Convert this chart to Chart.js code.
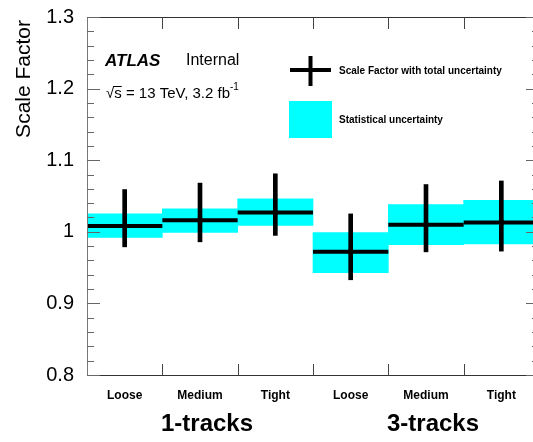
<!DOCTYPE html>
<html>
<head>
<meta charset="utf-8">
<script src="https://cdn.jsdelivr.net/npm/chart.js@4/dist/chart.umd.min.js"></script>
<style>
  html, body { margin: 0; padding: 0; background: #fff; overflow: hidden; }
  #wrap { position: relative; width: 545px; height: 442px; }
</style>
</head>
<body>
<div id="wrap"><canvas id="sfChart"></canvas></div>
<script>
// 各 bin 的分類與數值
const categories = ['Loose', 'Medium', 'Tight', 'Loose', 'Medium', 'Tight'];
const groupLabels = ['1-tracks', '3-tracks'];
const sfValues = [1.008, 1.016, 1.027, 0.972, 1.010, 1.013];
const totalLow = [0.979, 0.986, 0.995, 0.933, 0.972, 0.973];
const totalHigh = [1.059, 1.068, 1.081, 1.025, 1.066, 1.071];
const statLow = [0.992, 0.999, 1.009, 0.943, 0.982, 0.983];
const statHigh = [1.025, 1.032, 1.046, 0.999, 1.038, 1.044];
const yMin = 0.8, yMax = 1.3, yMajor = 0.1, yMinor = 0.02;

const FONT = "'Liberation Sans', Arial, Helvetica, sans-serif";

/**
 * 畫框、內向刻度、中心值橫線、標示與圖例
 */
const rootStylePlugin = {
    id: 'rootStyle',
    afterDatasetsDraw(chart) {
        const ctx = chart.ctx;
        const x = chart.scales.x, y = chart.scales.y;
        const hw = (x.getPixelForValue(1) - x.getPixelForValue(0)) / 2;
        ctx.save();
        ctx.strokeStyle = '#000';
        ctx.fillStyle = '#000';
        ctx.lineWidth = 4;
        sfValues.forEach((v, i) => {
            const xc = x.getPixelForValue(i);
            const yc = y.getPixelForValue(v);
            ctx.beginPath();
            ctx.moveTo(xc - hw, yc);
            ctx.lineTo(xc + hw, yc);
            ctx.stroke();
            ctx.beginPath();
            ctx.arc(xc, yc, 3, 0, Math.PI * 2);
            ctx.fill();
        });
        ctx.restore();
    },
    afterDraw(chart) {
        const ctx = chart.ctx;
        const a = chart.chartArea;
        const x = chart.scales.x, y = chart.scales.y;
        const hw = (x.getPixelForValue(1) - x.getPixelForValue(0)) / 2;
        ctx.save();

        // 框線
        ctx.lineWidth = 1;
        ctx.strokeStyle = '#333';
        ctx.beginPath();
        ctx.moveTo(a.left, a.top + 0.5); ctx.lineTo(a.right, a.top + 0.5);
        ctx.moveTo(a.left, a.bottom + 0.5); ctx.lineTo(a.right, a.bottom + 0.5);
        ctx.moveTo(a.right + 0.5, a.top); ctx.lineTo(a.right + 0.5, a.bottom);
        ctx.stroke();
        ctx.strokeStyle = '#777';
        ctx.beginPath();
        ctx.moveTo(a.left + 0.5, a.top); ctx.lineTo(a.left + 0.5, a.bottom + 1);
        ctx.stroke();

        // y 軸刻度（主 / 次）
        ctx.strokeStyle = '#666';
        const nSteps = Math.round((yMax - yMin) / yMinor);
        for (let k = 0; k <= nSteps; k++) {
            const v = yMin + k * yMinor;
            const major = k % Math.round(yMajor / yMinor) === 0;
            const len = major ? 13 : 7;
            const py = Math.round(y.getPixelForValue(v)) + 0.5;
            ctx.beginPath();
            ctx.moveTo(a.left, py); ctx.lineTo(a.left + len, py);
            ctx.moveTo(a.right, py); ctx.lineTo(a.right - len, py);
            ctx.stroke();
        }

        // x 軸刻度（bin 邊界）
        ctx.strokeStyle = '#444';
        for (let i = 0; i < categories.length; i++) {
            const px = Math.round(x.getPixelForValue(i) + hw) + 0.5;
            ctx.beginPath();
            ctx.moveTo(px, a.bottom); ctx.lineTo(px, a.bottom - 11);
            ctx.moveTo(px, a.top); ctx.lineTo(px, a.top + 12);
            ctx.stroke();
        }

        // 群組標示
        ctx.fillStyle = '#000';
        ctx.textAlign = 'center';
        ctx.textBaseline = 'middle';
        ctx.font = 'bold 24px ' + FONT;
        groupLabels.forEach((g, j) => {
            const xc = x.getPixelForValue(j * 3 + 1) + 7;
            ctx.fillText(g, xc, 424);
        });

        // y 軸標題
        ctx.save();
        ctx.translate(24, a.top + 3);
        ctx.rotate(-Math.PI / 2);
        ctx.textAlign = 'right';
        ctx.textBaseline = 'middle';
        ctx.font = '21px ' + FONT;
        ctx.fillText('Scale Factor', 0, 0);
        ctx.restore();

        // ATLAS Internal
        ctx.textAlign = 'left';
        ctx.font = 'italic bold 17px ' + FONT;
        ctx.fillText('ATLAS', 105, 61);
        ctx.font = '16px ' + FONT;
        ctx.fillText('Internal', 186, 61);

        // √s = 13 TeV, 3.2 fb-1
        ctx.font = '15px ' + FONT;
        ctx.fillText('\u221As = 13 TeV, 3.2 fb', 106, 94);
        let w = ctx.measureText('\u221As = 13 TeV, 3.2 fb').width;
        const sq = ctx.measureText('\u221A').width;
        const sw = ctx.measureText('s').width;
        ctx.lineWidth = 1;
        ctx.strokeStyle = '#000';
        ctx.beginPath();
        ctx.moveTo(106 + sq - 1, 86.5); ctx.lineTo(106 + sq + sw, 86.5);
        ctx.stroke();
        ctx.font = '10px ' + FONT;
        ctx.fillText('-1', 106 + w, 87);

        // 圖例
        ctx.strokeStyle = '#000';
        ctx.lineWidth = 4;
        ctx.beginPath();
        ctx.moveTo(290, 70); ctx.lineTo(331, 70);
        ctx.moveTo(310.5, 56); ctx.lineTo(310.5, 86);
        ctx.stroke();
        ctx.fillStyle = '#00ffff';
        ctx.fillRect(289, 101, 43, 37);
        ctx.fillStyle = '#000';
        ctx.font = 'bold 10px ' + FONT;
        ctx.fillText('Scale Factor with total uncertainty', 339, 71);
        ctx.fillText('Statistical uncertainty', 339, 120);

        ctx.restore();
    }
};

document.addEventListener('DOMContentLoaded', function () {
    const ctx = document.getElementById('sfChart').getContext('2d');
    new Chart(ctx, {
        type: 'bar',
        data: {
            labels: categories,
            datasets: [{
                label: 'Statistical uncertainty',
                data: statLow.map((lo, i) => [lo, statHigh[i]]),
                backgroundColor: '#00ffff',
                borderWidth: 0,
                barPercentage: 1,
                categoryPercentage: 1,
                grouped: false,
                order: 2
            }, {
                label: 'Scale Factor with total uncertainty',
                data: totalLow.map((lo, i) => [lo, totalHigh[i]]),
                backgroundColor: '#000',
                borderWidth: 0,
                barThickness: 4,
                grouped: false,
                order: 1
            }]
        },
        options: {
            responsive: true,
            maintainAspectRatio: false,
            animation: false,
            layout: { padding: { top: 17, right: 6, left: 0, bottom: 0 } },
            plugins: {
                legend: { display: false },
                tooltip: { enabled: false }
            },
            scales: {
                x: {
                    offset: true,
                    grid: { display: false },
                    border: { display: false },
                    ticks: {
                        color: '#000',
                        padding: 5,
                        maxRotation: 0,
                        autoSkip: false,
                        font: { family: FONT, size: 12, weight: 'bold' }
                    },
                    afterFit(scale) { scale.height = 67; }
                },
                y: {
                    min: yMin,
                    max: yMax,
                    grid: { display: false },
                    border: { display: false },
                    ticks: {
                        stepSize: yMajor,
                        color: '#000',
                        padding: 5,
                        font: { family: FONT, size: 20 },
                        callback: v => String(+v.toFixed(1))
                    },
                    afterFit(scale) { scale.width = 87; }
                }
            }
        },
        plugins: [rootStylePlugin]
    });
});
</script>
</body>
</html>
